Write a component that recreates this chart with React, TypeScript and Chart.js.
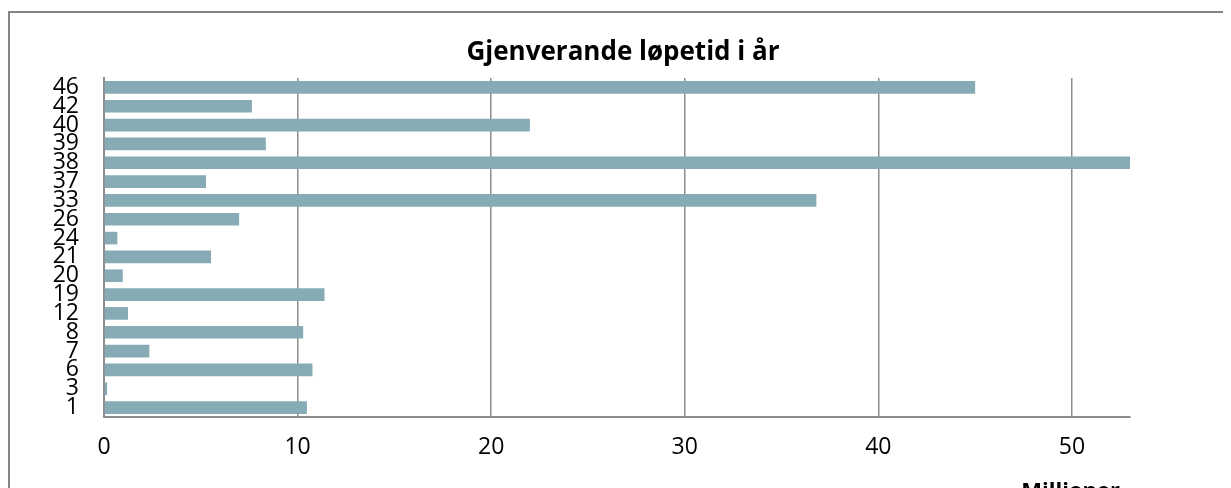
import React, { useEffect, useRef } from "react";
import { Chart, registerables } from "chart.js";

Chart.register(...registerables);

const categories = ["46", "42", "40", "39", "38", "37", "33", "26", "24", "21", "20", "19", "12", "8", "7", "6", "3", "1"];
const values = [45.0, 7.64, 22.0, 8.36, 53.1, 5.27, 36.8, 6.98, 0.69, 5.53, 0.97, 11.39, 1.24, 10.29, 2.34, 10.77, 0.16, 10.48];
const xTicks = [0, 10, 20, 30, 40, 50];
const titleText = "Gjenverande løpetid i år";
const axisTitleText = "Millioner";

const axisTitlePlugin = {
  id: "axisTitleText",
  afterDraw(chart: any) {
    const { ctx, chartArea } = chart;
    ctx.save();
    ctx.font = "bold 22px 'Open Sans'";
    ctx.fillStyle = "#000";
    ctx.textAlign = "right";
    ctx.textBaseline = "alphabetic";
    ctx.fillText(axisTitleText, chartArea.right - 10, 490);
    ctx.restore();
  },
};

export default function App() {
  const canvasRef = useRef<HTMLCanvasElement | null>(null);

  useEffect(() => {
    const canvas = canvasRef.current;
    if (!canvas) return;
    const chart = new Chart(canvas, {
      type: "bar",
      data: {
        labels: categories,
        datasets: [
          {
            data: values,
            backgroundColor: "#86ABB5",
            borderWidth: 0,
            categoryPercentage: 1,
            barPercentage: 0.67,
          },
        ],
      },
      options: {
        indexAxis: "y",
        animation: false,
        responsive: false,
        maintainAspectRatio: false,
        layout: { padding: { left: 7, right: 0, top: 0, bottom: 0 } },
        plugins: {
          legend: { display: false },
          tooltip: { enabled: false },
          title: {
            display: true,
            text: titleText,
            color: "#000",
            font: { family: "'Open Sans'", size: 26, weight: "bold", lineHeight: 1.2 },
            padding: { top: 29.4, bottom: 9.4 },
          },
        },
        scales: {
          x: {
            min: 0,
            max: 53,
            afterBuildTicks: (scale: any) => {
              scale.ticks = xTicks.map((v) => ({ value: v }));
            },
            afterFit: (scale: any) => {
              scale.height = 91;
            },
            ticks: {
              color: "#000",
              font: { family: "'Open Sans'", size: 23 },
              padding: 17,
              maxRotation: 0,
            },
            grid: { color: "#8c8c8c", lineWidth: 1.5, drawTicks: false },
            border: { display: true, color: "#8c8c8c", width: 2 },
          },
          y: {
            afterFit: (scale: any) => {
              scale.width = 89;
            },
            ticks: {
              autoSkip: false,
              color: "#000",
              font: { family: "'Open Sans'", size: 23, lineHeight: 1 },
              padding: 25,
            },
            grid: { display: false, drawTicks: false },
            border: { display: true, color: "#8c8c8c", width: 2 },
          },
          ySpacer: {
            type: "category",
            axis: "y",
            position: "right",
            labels: categories,
            afterFit: (scale: any) => {
              scale.width = 101;
            },
            ticks: { display: false },
            grid: { display: false, drawTicks: false },
            border: { display: false },
          },
        },
      },
      plugins: [axisTitlePlugin],
    });
    return () => chart.destroy();
  }, []);

  return (
    <div style={{ position: "relative", width: 1223, height: 480, overflow: "hidden" }}>
      <canvas
        ref={canvasRef}
        width={1223}
        height={500}
        style={{ position: "absolute", left: 0, top: 0, width: 1223, height: 500 }}
      />
      <div
        style={{
          position: "absolute",
          left: 0,
          top: 3,
          width: 1400,
          height: 700,
          borderLeft: "2px solid #858585",
          borderTop: "2px solid #858585",
          pointerEvents: "none",
        }}
      />
    </div>
  );
}
